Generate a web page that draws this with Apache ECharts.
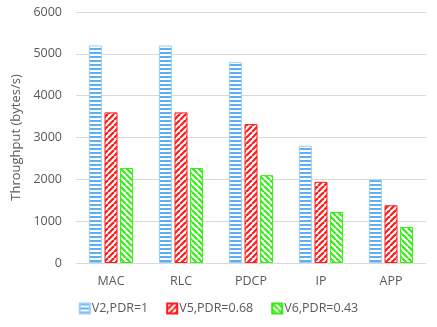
<!DOCTYPE html>
<html>
<head>
<meta charset="utf-8">
<script src="https://cdn.jsdelivr.net/npm/echarts@6/dist/echarts.min.js"></script>
<style>
  html, body { margin: 0; padding: 0; background: #fff; }
  #chart { width: 437px; height: 327px; }
</style>
</head>
<body>
<div id="chart"></div>
<script>
let layers = ['MAC', 'RLC', 'PDCP', 'IP', 'APP']
let v2 = [5200, 5200, 4800, 2800, 2000]
let v5 = [3600, 3600, 3320, 1940, 1380]
let v6 = [2270, 2270, 2100, 1220, 860]
let yTicks = [0, 6000, 1000]   // min, max, step

function hStripes(color) {
    let c = document.createElement('canvas')
    c.width = 4; c.height = 4
    let ctx = c.getContext('2d')
    ctx.fillStyle = '#fff'
    ctx.fillRect(0, 0, 4, 4)
    ctx.fillStyle = color
    ctx.fillRect(0, 0, 4, 2)
    return {image: c, repeat: 'repeat'}
}

function diagStripes(color, up) {
    let s = 6
    let c = document.createElement('canvas')
    c.width = s; c.height = s
    let ctx = c.getContext('2d')
    ctx.fillStyle = '#fff'
    ctx.fillRect(0, 0, s, s)
    ctx.strokeStyle = color
    ctx.lineWidth = 2.2
    for (let k = -1; k <= 1; k++) {
        ctx.beginPath()
        if (up) {
            ctx.moveTo(k * s, s)
            ctx.lineTo(k * s + s, 0)
        } else {
            ctx.moveTo(k * s, 0)
            ctx.lineTo(k * s + s, s)
        }
        ctx.stroke()
    }
    return {image: c, repeat: 'repeat'}
}

let chart = echarts.init(document.getElementById('chart'))
let font = '"Open Sans", "Noto Sans", sans-serif'
let option = {
    animation: false,
    textStyle: {fontFamily: font},
    grid: {left: 76, right: 11, top: 12, bottom: 64},
    legend: {
        bottom: 7,
        left: 'center',
        itemWidth: 10,
        itemHeight: 10,
        itemGap: 18,
        icon: 'rect',
        textStyle: {color: '#595959', fontSize: 12.5, fontFamily: font, padding: [0, 0, 0, -3]}
    },
    xAxis: {
        type: 'category',
        data: layers,
        axisTick: {show: false},
        axisLine: {lineStyle: {color: '#d9d9d9', width: 1}},
        axisLabel: {color: '#595959', fontSize: 12.5, margin: 12}
    },
    yAxis: {
        type: 'value',
        min: yTicks[0],
        max: yTicks[1],
        interval: yTicks[2],
        name: 'Throughput (bytes/s)',
        nameLocation: 'middle',
        nameGap: 46,
        nameTextStyle: {color: '#595959', fontSize: 13},
        axisLabel: {color: '#595959', fontSize: 12.5, margin: 14, formatter: v => String(v)},
        splitLine: {lineStyle: {color: '#d9d9d9', width: 1}},
        axisLine: {show: false},
        axisTick: {show: false}
    },
    series: [
        {
            name: 'V2,PDR=1',
            type: 'bar',
            data: v2,
            barWidth: 13,
            barGap: '20%',
            itemStyle: {color: hStripes('#5eaef4'), borderColor: '#9ccdf7', borderWidth: 1}
        },
        {
            name: 'V5,PDR=0.68',
            type: 'bar',
            data: v5,
            barWidth: 13,
            barGap: '20%',
            itemStyle: {color: diagStripes('#ff1a1a', true), borderColor: '#ff1a1a', borderWidth: 1}
        },
        {
            name: 'V6,PDR=0.43',
            type: 'bar',
            data: v6,
            barWidth: 13,
            barGap: '20%',
            itemStyle: {color: diagStripes('#33ee11', false), borderColor: '#33ee11', borderWidth: 1}
        }
    ]
}
chart.setOption(option)
</script>
</body>
</html>
